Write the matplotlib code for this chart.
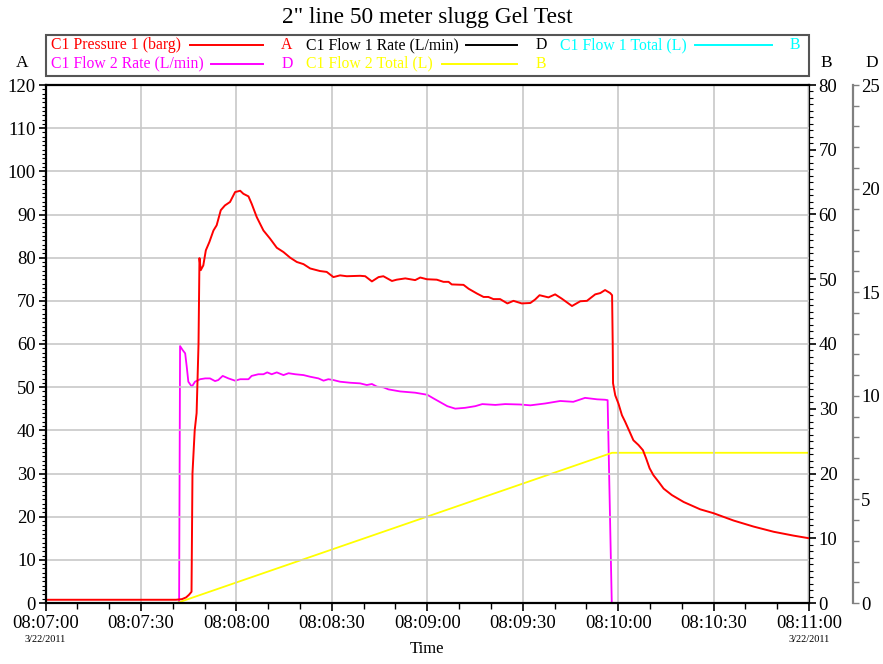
import numpy as np
import matplotlib
matplotlib.use("Agg")
import matplotlib.pyplot as plt
import matplotlib.dates as mdates
from matplotlib.lines import Line2D
from matplotlib.patches import Rectangle
from matplotlib.ticker import MultipleLocator
from matplotlib.transforms import blended_transform_factory

# ---------------------------------------------------------------------------
# data (seconds after 08:07:00 on 3/22/2011)
# ---------------------------------------------------------------------------
START = np.datetime64("2011-03-22T08:07:00")

pressure_t = [0, 41.0, 42.9, 44.2, 45.1, 45.9, 46.2, 46.9, 47.5, 48.1, 48.4, 48.8,
              49.6, 50.4, 51.5, 52.8, 53.8, 55.1, 56.4, 58.0, 59.6, 61.2, 62.2,
              63.8, 64.8, 66.4, 68.5, 70.6, 72.7, 74.8, 76.9, 79.0, 81.1, 83.2,
              86.3, 88.4, 90.5, 92.6, 94.7, 98.9, 100.5, 102.6, 104.7, 106.2,
              108.9, 110.4, 113.1, 116.2, 117.8, 119.9, 123.0, 125.1, 126.7,
              127.7, 131.4, 133.0, 135.6, 137.7, 139.2, 140.8, 142.9, 145.2,
              147.1, 149.7, 152.4, 153.9, 155.3, 158.1, 160.2, 162.3, 165.5,
              168.1, 170.2, 172.8, 174.4, 175.9, 177.5, 178.1, 178.3, 178.4,
              179.1, 180.1, 181.2, 182.2, 183.6, 184.8, 186.4, 187.8, 188.8,
              189.9, 191.1, 192.7, 194.3, 196.9, 200.6, 205.8, 210.0, 216.3,
              222.6, 228.9, 235.2, 240.0]
pressure = [0.75, 0.75, 0.9, 1.3, 1.9, 2.6, 30, 40, 44, 60, 79.9, 77.1,
            78.2, 81.7, 83.6, 86.3, 87.5, 91.0, 92.1, 92.9, 95.2, 95.5, 94.8,
            94.2, 92.5, 89.4, 86.3, 84.4, 82.3, 81.3, 80.0, 79.0, 78.5, 77.5,
            76.9, 76.7, 75.5, 75.9, 75.7, 75.8, 75.7, 74.5, 75.5, 75.7,
            74.6, 74.9, 75.2, 74.8, 75.4, 75.0, 74.9, 74.4, 74.4,
            73.8, 73.7, 72.8, 71.7, 70.9, 70.9, 70.4, 70.4, 69.4,
            70.0, 69.4, 69.5, 70.3, 71.3, 70.8, 71.5, 70.5, 68.8,
            69.9, 70.0, 71.5, 71.8, 72.5, 71.8, 71.3, 60.0, 50.9,
            48.1, 46.2, 43.5, 42.0, 39.7, 37.7, 36.6, 35.4, 33.5,
            31.2, 29.6, 28.1, 26.5, 25.0, 23.4, 21.7, 20.8, 19.1,
            17.7, 16.5, 15.6, 15.0]

flow2_t = [0, 42.0, 42.3, 43.1, 43.9, 44.4, 44.9, 46.0, 47.0, 48.6, 50.2, 51.7,
           53.3, 54.3, 55.7, 57.5, 59.6, 61.2, 63.8, 64.8, 66.9, 68.5, 69.7,
           71.1, 72.7, 74.8, 76.4, 78.5, 81.1, 83.2, 85.8, 87.4, 88.9, 90.5,
           92.6, 95.8, 98.9, 101.0, 102.6, 104.2, 106.2, 107.8, 111.5, 116.2,
           120.0, 121.9, 124.1, 126.3, 128.8, 131.9, 135.1, 137.3, 141.4,
           144.5, 149.2, 152.4, 157.1, 161.8, 165.9, 169.6, 173.4, 175.9,
           176.7, 178.0, 240.0]
flow2_rate = [0, 0, 12.40, 12.21, 12.05, 11.40, 10.68, 10.44, 10.68, 10.80, 10.84, 10.84,
              10.71, 10.76, 10.96, 10.84, 10.73, 10.80, 10.80, 10.96, 11.04, 11.04, 11.13,
              11.04, 11.13, 11.00, 11.09, 11.04, 11.00, 10.92, 10.84, 10.73, 10.80, 10.76,
              10.68, 10.63, 10.60, 10.52, 10.57, 10.44, 10.41, 10.31, 10.21, 10.15,
              10.05, 9.88, 9.69, 9.50, 9.38, 9.42, 9.50, 9.60, 9.56,
              9.60, 9.58, 9.54, 9.63, 9.75, 9.71, 9.90, 9.83, 9.81,
              9.79, 0, 0]

flow2_total_t = [0, 41.3, 178.1, 240.0]
flow2_total = [0, 0, 23.2, 23.2]

flow1_t = [0, 240.0]
flow1_rate = [0, 0]
flow1_total = [0, 0]


def to_time(secs):
    return START + (np.array(secs) * 1000).astype("timedelta64[ms]")


# ---------------------------------------------------------------------------
# figure
# ---------------------------------------------------------------------------
plt.rcParams["font.family"] = ["Liberation Serif", "DejaVu Serif"]

W, H = 883, 664
fig = plt.figure(figsize=(W / 100, H / 100), dpi=100)
fig.patch.set_facecolor("white")


def fx(px):
    return px / W


def fy(py):
    return 1 - py / H


L, R, T, B = 45.5, 809, 85, 603
ax = fig.add_axes([fx(L), fy(B), fx(R) - fx(L), fy(T) - fy(B)])
ax_b = ax.twinx()
ax_d = ax.twinx()

# pressure axis on top so the red trace sits above the others
ax.set_zorder(3)
ax.patch.set_visible(False)
ax_b.set_zorder(2)
ax_d.set_zorder(1)

# lines (lowest first)
ax_d.plot(to_time(flow1_t), flow1_total, color="cyan", lw=1.8)
ax_d.plot(to_time(flow1_t), flow1_rate, color="black", lw=0.9)
ax_d.plot(to_time(flow2_t), flow2_rate, color="#ff00ff", lw=1.3)
ax_b.plot(to_time(flow2_total_t), flow2_total, color="#ffff00", lw=1.3)
ax.plot(to_time(pressure_t), pressure, color="#ff0000", lw=1.4)

t_lo, t_hi = to_time([0, 240])
for a in (ax, ax_b, ax_d):
    a.set_xlim(t_lo, t_hi)

ax.set_ylim(0, 120)
ax_b.set_ylim(0, 80)
ax_d.set_ylim(0, 25)

# x axis
ax.xaxis.set_major_locator(mdates.SecondLocator(bysecond=[0, 30]))
ax.xaxis.set_minor_locator(mdates.SecondLocator(bysecond=[0, 10, 20, 30, 40, 50]))
ax.xaxis.set_major_formatter(mdates.DateFormatter("%H:%M:%S"))
ax.tick_params(axis="x", which="major", length=6, width=1.2, labelsize=13.5, pad=3)
ax.tick_params(axis="x", which="minor", length=4, width=1.0)

# A axis
ax.yaxis.set_major_locator(MultipleLocator(10))
ax.yaxis.set_minor_locator(MultipleLocator(1))
ax.tick_params(axis="y", which="major", length=5, width=1.2, labelsize=13.5, pad=2)
ax.tick_params(axis="y", which="minor", length=3, width=0.8)

# B axis
ax_b.yaxis.set_major_locator(MultipleLocator(10))
ax_b.yaxis.set_minor_locator(MultipleLocator(1))
ax_b.tick_params(axis="y", which="major", length=5, width=1.2, labelsize=13.5, pad=2)
ax_b.tick_params(axis="y", which="minor", length=3, width=0.8)

# D axis
ax_d.spines["right"].set_position(("axes", (853 - L) / (R - L)))
ax_d.yaxis.set_major_locator(MultipleLocator(5))
ax_d.yaxis.set_minor_locator(MultipleLocator(1))
ax_d.tick_params(axis="y", which="both", length=4, width=1.0, color="#808080",
                 labelsize=13.5, pad=2)

# grid
ax.grid(True, which="major", color="#c8c8c8", lw=1.2)

# spines
for name in ("left", "bottom", "top"):
    ax.spines[name].set_linewidth(1.6)
    ax.spines[name].set_color("black")
ax.spines["right"].set_visible(False)
for name in ("left", "bottom", "top"):
    ax_b.spines[name].set_visible(False)
    ax_d.spines[name].set_visible(False)
ax_b.spines["right"].set_linewidth(1.6)
ax_d.spines["right"].set_linewidth(1.6)
ax_d.spines["right"].set_color("#808080")

# date stamps and axis label
btr = blended_transform_factory(ax.transData, ax.transAxes)
for tt in (t_lo, t_hi):
    ax.text(mdates.date2num(tt), (B - 640) / (B - T), "3/22/2011", transform=btr,
            ha="center", va="center", fontsize=7.5)
ax.set_xlabel("Time", fontsize=12, va="center")
ax.xaxis.set_label_coords(0.5, (B - 649) / (B - T))

# title and axis letters
fig.text(fx(427), fy(18), '2" line 50 meter slugg Gel Test', ha="center", va="center",
         fontsize=16.8)
fig.text(fx(22), fy(63), "A", ha="center", va="center", fontsize=12.5)
fig.text(fx(826.5), fy(63), "B", ha="center", va="center", fontsize=12.5)
fig.text(fx(871.5), fy(63), "D", ha="center", va="center", fontsize=12.5)

# legend box drawn by hand (text, line, axis letter)
fig.add_artist(Rectangle((fx(46), fy(76)), fx(809) - fx(46), fy(35) - fy(76),
                         transform=fig.transFigure, fill=False,
                         edgecolor="#555555", lw=1.5))
legend_rows = [
    ("C1 Pressure 1 (barg)", "#ff0000", "A", 51, 190, 263, 287, 45),
    ("C1 Flow 1 Rate (L/min)", "black", "D", 306, 466, 517, 541, 45),
    ("C1 Flow 1 Total (L)", "#00ffff", "B", 560, 695, 772, 795, 45),
    ("C1 Flow 2 Rate (L/min)", "#ff00ff", "D", 51, 211, 263, 287, 63.5),
    ("C1 Flow 2 Total (L)", "#ffff00", "B", 306, 442, 517, 541, 63.5),
]
for label, col, letter, x_txt, x1, x2, x_let, yy in legend_rows:
    fig.text(fx(x_txt), fy(yy), label, color=col, ha="left", va="center", fontsize=11.3)
    fig.add_artist(Line2D([fx(x1), fx(x2)], [fy(yy), fy(yy)], transform=fig.transFigure,
                          color=col, lw=1.4))
    fig.text(fx(x_let), fy(yy), letter, color=col, ha="center", va="center", fontsize=11.3)

fig.savefig("out.png", dpi=100, facecolor="white")
